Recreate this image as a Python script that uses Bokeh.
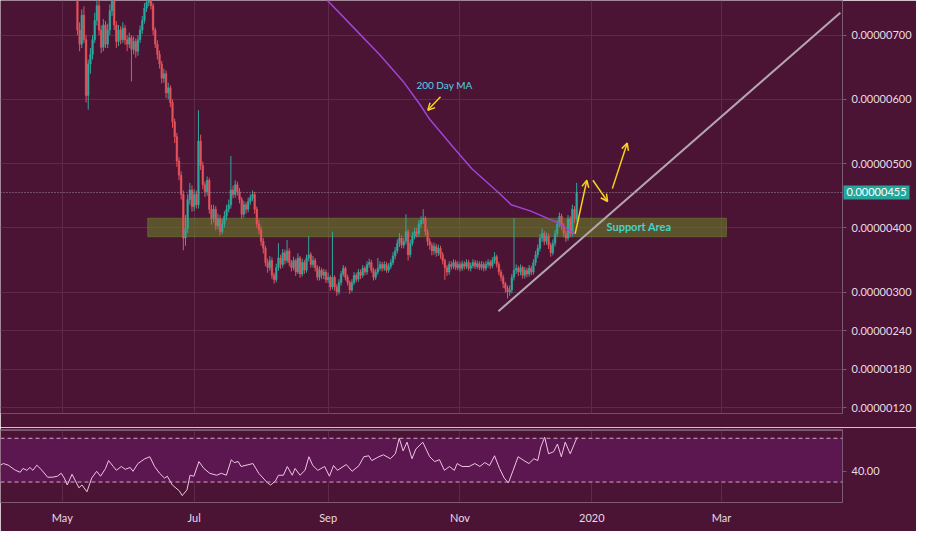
import pandas as pd
from bokeh.plotting import figure
from bokeh.layouts import column
from bokeh.models import (ColumnDataSource, FixedTicker, CustomJSTickFormatter, Range1d,
                          BoxAnnotation, Span, Label, Arrow, OpenHead)
from bokeh.core.properties import value
from bokeh.embed import file_html
from bokeh.resources import INLINE

# daily candles, prices in satoshi (1e-8 BTC), first candle 2019-05-08
first_day = "2019-05-08"
first_open = 770
close = [708, 686, 731, 693, 606, 655, 670, 693, 723, 746, 708, 681, 716, 686, 708, 738, 761, 716, 690, 708,
         693, 711, 693, 686, 696, 678, 690, 675, 693, 708, 723, 742, 751, 761, 746, 708, 686, 670, 655, 633,
         640, 610, 618, 595, 565, 542, 504, 482, 452, 384, 399, 444, 459, 433, 452, 436, 535, 497, 467, 456,
         474, 429, 414, 429, 403, 414, 394, 406, 418, 429, 436, 459, 452, 467, 456, 444, 421, 436, 429, 441,
         447, 452, 429, 406, 397, 379, 368, 346, 338, 349, 326, 319, 338, 353, 343, 361, 349, 364, 346, 338,
         349, 331, 353, 328, 346, 334, 353, 358, 343, 349, 338, 323, 334, 326, 331, 319, 323, 308, 323, 308,
         300, 315, 328, 337, 323, 315, 303, 315, 326, 320, 331, 326, 337, 331, 343, 346, 334, 323, 331, 337,
         343, 337, 343, 334, 340, 346, 356, 364, 376, 384, 373, 379, 394, 358, 376, 387, 394, 391, 406, 412,
         415, 394, 379, 373, 364, 371, 361, 368, 358, 349, 338, 331, 343, 340, 346, 338, 343, 337, 344, 340,
         346, 337, 341, 346, 340, 344, 338, 343, 337, 343, 346, 341, 349, 355, 343, 331, 323, 313, 306, 300,
         303, 323, 334, 337, 331, 338, 326, 334, 328, 337, 331, 346, 358, 368, 384, 391, 379, 387, 373, 361,
         376, 391, 406, 418, 403, 391, 384, 414, 391, 429, 414, 455]
high = [785, 720, 740, 745, 700, 662, 680, 700, 735, 760, 765, 715, 725, 722, 718, 748, 775, 770, 722, 716,
        714, 720, 716, 700, 704, 700, 698, 695, 700, 715, 730, 750, 762, 775, 770, 750, 712, 692, 676, 660,
        648, 645, 626, 622, 600, 570, 548, 510, 488, 458, 420, 452, 470, 466, 460, 458, 583, 545, 503, 472,
        480, 478, 436, 436, 434, 422, 420, 414, 426, 436, 444, 512, 466, 474, 472, 462, 448, 442, 440, 447,
        452, 458, 456, 433, 412, 402, 384, 372, 352, 356, 354, 330, 344, 376, 358, 367, 366, 381, 368, 350,
        355, 352, 360, 356, 352, 350, 358, 387, 362, 356, 353, 342, 340, 338, 336, 335, 330, 326, 394, 326,
        312, 320, 333, 342, 340, 327, 318, 320, 331, 330, 336, 335, 342, 340, 348, 352, 350, 338, 336, 353,
        348, 347, 348, 347, 345, 351, 362, 370, 382, 392, 388, 385, 421, 398, 382, 393, 400, 400, 412, 418,
        429, 418, 398, 384, 377, 377, 375, 374, 372, 362, 352, 342, 348, 348, 351, 350, 348, 347, 349, 348,
        351, 350, 346, 351, 350, 349, 348, 348, 347, 348, 351, 350, 354, 362, 358, 347, 335, 327, 316, 310,
        310, 328, 415, 343, 341, 343, 341, 339, 338, 342, 341, 351, 364, 374, 390, 399, 395, 393, 391, 377,
        382, 397, 412, 424, 422, 407, 396, 420, 418, 436, 434, 470]
low = [700, 675, 680, 688, 595, 584, 640, 662, 688, 715, 700, 672, 675, 680, 680, 700, 730, 708, 680, 683,
       686, 688, 685, 675, 680, 628, 670, 665, 668, 688, 702, 718, 736, 745, 740, 700, 680, 662, 648, 625,
       626, 602, 600, 588, 556, 532, 495, 474, 444, 365, 372, 392, 436, 425, 426, 430, 430, 490, 460, 448,
       450, 422, 405, 408, 396, 398, 388, 390, 400, 412, 424, 430, 446, 447, 450, 438, 414, 416, 422, 424,
       436, 442, 422, 400, 390, 372, 360, 340, 330, 333, 320, 313, 315, 333, 336, 338, 343, 345, 340, 332,
       334, 325, 328, 322, 324, 328, 330, 348, 338, 338, 332, 318, 318, 320, 320, 314, 314, 302, 304, 302,
       294, 296, 310, 324, 318, 310, 297, 300, 311, 315, 316, 320, 322, 326, 327, 338, 330, 318, 319, 327,
       333, 332, 333, 330, 330, 336, 342, 351, 360, 370, 368, 368, 374, 349, 354, 372, 382, 385, 386, 400,
       406, 388, 372, 366, 357, 358, 355, 356, 352, 343, 319, 325, 327, 335, 336, 334, 334, 332, 333, 335,
       336, 333, 332, 337, 336, 336, 334, 334, 332, 333, 338, 336, 337, 344, 338, 326, 317, 306, 299, 290,
       294, 298, 318, 328, 325, 326, 321, 321, 323, 324, 326, 327, 341, 353, 363, 378, 373, 374, 367, 355,
       357, 371, 386, 401, 397, 385, 378, 380, 385, 386, 408, 410]

# 200 day moving average, day offsets counted from 2019-05-01
ma_day = [116.8, 122.7, 135.0, 147.3, 157.7, 165.5, 170.0, 180.5, 189.5, 201.8, 207.7, 216.8, 229.1, 237.3]
ma_val = [772, 754, 711, 668, 628, 592, 569, 527, 492, 455, 436, 426, 408, 390]

# RSI(14), day offsets counted from 2019-05-01
rsi_day = [-28.6, -27.3, -25.0, -21.8, -19.5, -18.2, -16.4, -15.0, -13.6, -11.8, -9.5, -6.8, -4.5, -2.3,
           -0.5, 0.9, 2.3, 4.5, 7.7, 9.1, 11.4, 13.6, 15.9, 17.7, 20.0, 21.4, 23.6, 25.0, 27.3, 29.1, 31.4,
           32.7, 35.0, 38.2, 40.5, 42.7, 45.0, 47.3, 48.6, 50.9, 54.1, 55.5, 57.7, 59.1, 60.9, 63.2, 65.5,
           68.2, 71.4, 73.6, 75.9, 78.2, 79.5, 81.4, 82.7, 88.2, 90.9, 95.0, 96.4, 98.6, 100.0, 102.3, 104.1,
           106.4, 107.7, 110.0, 112.3, 114.1, 115.9, 118.2, 121.4, 123.6, 125.5, 127.3, 131.4, 134.1, 137.3,
           139.5, 141.8, 143.2, 146.4, 148.6, 151.8, 154.1, 155.9, 157.7, 159.5, 161.8, 163.6, 166.8, 170.0,
           172.3, 174.5, 176.8, 179.1, 181.4, 182.7, 185.0, 188.2, 190.9, 193.2, 195.5, 197.7, 200.0, 202.3,
           204.5, 206.4, 208.6, 210.9, 213.6, 215.9, 218.2, 220.0, 221.4, 223.2, 225.0, 227.3, 229.1, 230.9,
           232.7, 235.0, 238.2]
rsi_val = [45.4, 46.9, 45.4, 40.9, 38.9, 42.4, 40.7, 43.3, 40.7, 45.4, 40.9, 34.4, 34.4, 35.3,
           38.0, 33.6, 27.3, 37.1, 24.7, 27.3, 21.1, 33.6, 39.8, 35.3, 42.4, 49.6, 44.2, 40.7, 44.2, 41.6, 43.3,
           39.8, 46.9, 51.3, 53.1, 44.2, 38.0, 33.6, 35.3, 27.3, 22.0, 17.6, 22.9, 36.2, 35.3, 48.7, 42.4,
           38.0, 36.2, 38.0, 36.2, 50.4, 47.8, 48.7, 44.2, 46.9, 38.0, 29.1, 27.3, 30.9, 36.2, 36.2, 44.2,
           36.2, 42.4, 36.2, 40.7, 53.1, 45.1, 40.7, 44.2, 35.3, 45.1, 40.7, 46.0, 39.8, 45.1,
           53.1, 54.0, 49.6, 53.1, 54.9, 51.3, 55.8, 70.0, 58.4, 66.4, 51.3, 60.2, 66.4, 53.1,
           48.7, 50.4, 40.7, 44.2, 40.7, 46.9, 44.2, 44.2, 46.9, 44.2, 47.8, 45.1, 54.0, 42.4,
           33.6, 29.1, 40.7, 53.1, 49.6, 46.9, 51.3, 49.6, 62.0, 70.9, 55.8, 57.6, 64.7, 53.1,
           66.4, 55.8, 70.9]

price_ticks = [120, 180, 240, 300, 400, 500, 600, 700]
last_price = 455
support_low, support_high = 386, 415
support_from, support_to = 39.5, 307.3
trend_day, trend_val = [201.8, 360.0], [270, 735]
# hand drawn arrows: day_start, value_start, day_end, value_end
arrows = [(237.3, 391, 242.7, 474), (245.5, 474, 252.3, 441), (254.5, 461, 261.4, 532)]
ma_arrow = (175.0, 604, 169.1, 583)

BG = "#4b1334"
GRID = "#5e2a4c"
EDGE = "#7c5a72"
TXT = "#e8dce3"
UP = "#2fa89d"
DOWN = "#e5535a"
YEL = "#f7d21f"
FONT = "Lato"

base = pd.Timestamp("2019-05-01")


def ms(d):
    return (base + pd.Timedelta(days=d)).value / 1e6


dates = pd.date_range(first_day, periods=len(close), freq="D")
opens = [first_open] + close[:-1]
colors = [UP if c >= o else DOWN for o, c in zip(opens, close)]
src = ColumnDataSource(dict(x=dates, o=opens, c=close, h=high, l=low, col=colors))

month_ticks = [ms(0), ms(61), ms(123), ms(184), ms(245), ms(305)]
month_fmt = CustomJSTickFormatter(code="""
const d = new Date(tick);
const m = d.getUTCMonth();
const n = ["Jan","Feb","Mar","Apr","May","Jun","Jul","Aug","Sep","Oct","Nov","Dec"];
return m == 0 ? String(d.getUTCFullYear()) : n[m];
""")

xr = Range1d(ms(-28.6), ms(361))


def style(fig):
    fig.background_fill_color = BG
    fig.border_fill_color = BG
    fig.outline_line_color = None
    fig.min_border = 0
    fig.min_border_right = 74
    fig.xgrid.ticker = FixedTicker(ticks=month_ticks)
    fig.grid.grid_line_color = GRID
    fig.grid.grid_line_width = 1
    for ax in fig.axis:
        ax.axis_line_color = EDGE
        ax.major_tick_line_color = EDGE
        ax.major_tick_in = 0
        ax.major_tick_out = 4
        ax.minor_tick_line_color = None
        ax.major_label_text_color = TXT
        ax.major_label_text_font = FONT
        ax.major_label_text_font_size = "11px"


p = figure(x_axis_type="datetime", x_range=xr, y_range=Range1d(110.8, 754), x_axis_location=None,
           y_axis_location="right", frame_width=842, frame_height=413,
           toolbar_location=None, output_backend="svg")
style(p)
p.yaxis.ticker = FixedTicker(ticks=price_ticks)
p.yaxis.major_label_overrides = {v: "0.00000%03d" % v for v in price_ticks}
p.yaxis.major_label_standoff = 5
p.ygrid.ticker = FixedTicker(ticks=price_ticks)

p.add_layout(BoxAnnotation(left=ms(support_from), right=ms(support_to), bottom=support_low, top=support_high,
                           fill_color="#66772a", fill_alpha=0.65, line_color="#7dc23a", line_width=1,
                           level="underlay"))
p.add_layout(Span(location=last_price, dimension="width", line_color="#a08fa0", line_dash="1 2",
                  line_width=1))

day = 86400000
p.segment(x0="x", y0="h", x1="x", y1="l", color="col", line_width=1, source=src)
p.vbar(x="x", width=0.75 * day, top="o", bottom="c", fill_color="col", line_color="col",
       line_width=0.5, source=src)

p.line([ms(d) for d in ma_day], ma_val, line_color="#a044d8", line_width=1.5)
p.line([ms(d) for d in trend_day], trend_val, line_color="#b3a6b1", line_width=2)

for a in arrows + [ma_arrow]:
    p.add_layout(Arrow(end=OpenHead(size=7, line_color=YEL, line_width=1.5),
                       x_start=ms(a[0]), y_start=a[1], x_end=ms(a[2]), y_end=a[3],
                       line_color=YEL, line_width=1.5))

p.text(x=[ms(266.8)], y=[401.5], text=["Support Area"], text_color="#45d3c6", text_font=value(FONT),
       text_font_size="11px", text_font_style="bold", text_align="center", text_baseline="middle")
p.text(x=[ms(176.8)], y=[622], text=["200 Day MA"], text_color="#4fd2e4", text_font=value(FONT),
       text_font_size="10px", text_align="center", text_baseline="middle")

# price tag on the price scale; kept in a side panel so the frame does not clip it
p.add_layout(Label(x=843, x_units="screen", y=last_price, text="0.00000455", text_color="white",
                   text_font=FONT, text_font_size="11px", text_align="left", text_baseline="middle",
                   background_fill_color="#26a69a", padding=3), "below")

# RSI pane
r = figure(x_axis_type="datetime", x_range=xr, y_range=Range1d(11.3, 78), y_axis_location="right",
           frame_width=842, frame_height=73, toolbar_location=None, output_backend="svg")
style(r)
r.min_border_top = 2
r.min_border_bottom = 29
r.xaxis.ticker = FixedTicker(ticks=month_ticks)
r.xaxis.formatter = month_fmt
r.xaxis.major_tick_out = 0
r.xaxis.major_label_standoff = 8
r.yaxis.ticker = FixedTicker(ticks=[40])
r.yaxis.major_label_overrides = {40: "40.00"}
r.yaxis.major_label_standoff = 5
r.ygrid.ticker = FixedTicker(ticks=[40])
r.ygrid.grid_line_color = "#6d3a62"

r.add_layout(BoxAnnotation(bottom=30, top=70, fill_color="#5c1650", fill_alpha=1, line_color=None,
                           level="underlay"))
for lv in (30, 70):
    r.add_layout(Span(location=lv, dimension="width", line_color="#cfa9c6", line_dash="4 3",
                      line_width=1))
r.add_layout(Span(location=77.3, dimension="width", line_color=EDGE, line_width=1.5))
r.line([ms(d) for d in rsi_day], rsi_val, line_color="#ecc8df", line_width=1)

layout = column(p, r, spacing=0)
open("out.html", "w").write(file_html(layout, INLINE))
